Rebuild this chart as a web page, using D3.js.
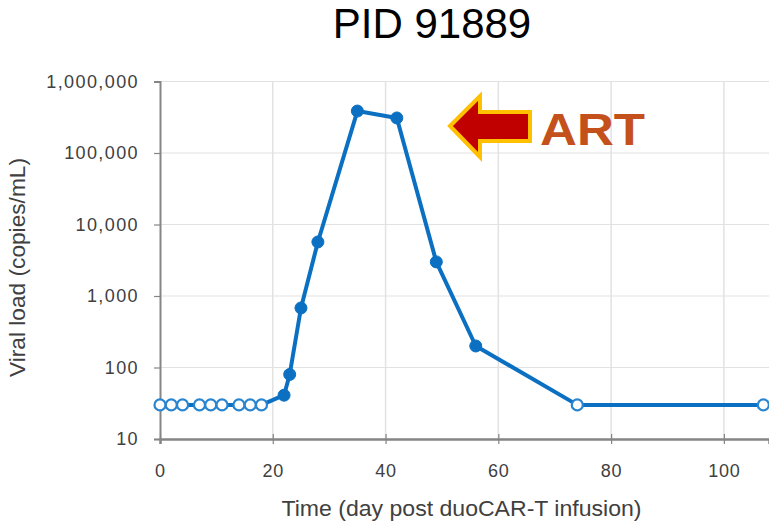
<!DOCTYPE html>
<html>
<head>
<meta charset="utf-8">
<script src="https://cdn.jsdelivr.net/npm/d3@7"></script>
<style>
  html, body { margin: 0; padding: 0; background: #fff; }
  svg { display: block; font-family: "Liberation Sans", Arial, sans-serif; }
</style>
</head>
<body>
<svg id="chart" width="769" height="523"></svg>
<script>
// Viral load measurements after duoCAR-T infusion
const days        = [0, 2, 4, 7, 9, 11, 14, 16, 18, 22, 23, 25, 28, 35, 42, 49, 56, 74, 107];
const viralLoad   = [30, 30, 30, 30, 30, 30, 30, 30, 30, 41, 80, 680, 5700, 386000, 309000, 3000, 200, 30, 30];
// true = below limit of detection (drawn as open marker)
const belowLimit  = [true, true, true, true, true, true, true, true, true, false, false, false, false, false, false, false, false, true, true];
const xTicks      = [0, 20, 40, 60, 80, 100];
const yTicks      = [10, 100, 1000, 10000, 100000, 1000000];

const svg = d3.select("#chart");
const margin = { left: 160, right: 0, top: 81.5, bottom: 84 };
const W = 769, H = 523;

const x = d3.scaleLinear().domain([0, 108]).range([margin.left, W - margin.right]);
const y = d3.scaleLog().domain([10, 1000000]).range([H - margin.bottom, margin.top]);

const lineBlue = "#0b70c2";
const axisGray = "#858585";
const gridGray = "#e2e2e2";
const labelGray = "#404040";

// Title
svg.append("text")
  .attr("x", 432).attr("y", 38)
  .attr("text-anchor", "middle")
  .attr("font-size", 42)
  .attr("fill", "#000")
  .text("PID 91889");

// Gridlines
svg.append("g").selectAll("line")
  .data(xTicks.filter(d => d > 0))
  .join("line")
  .attr("x1", d => x(d)).attr("x2", d => x(d))
  .attr("y1", y(1000000)).attr("y2", y(10))
  .attr("stroke", gridGray).attr("stroke-width", 1.5);

svg.append("g").selectAll("line")
  .data(yTicks.filter(d => d > 10))
  .join("line")
  .attr("x1", x(0)).attr("x2", W)
  .attr("y1", d => y(d)).attr("y2", d => y(d))
  .attr("stroke", gridGray).attr("stroke-width", 1.2);

// Y axis
const yAxis = svg.append("g")
  .attr("transform", `translate(${x(0)},0)`)
  .call(d3.axisLeft(y).tickValues(yTicks).tickFormat(d3.format(",")).tickSize(6).tickPadding(15));
yAxis.select(".domain").attr("stroke", axisGray).attr("stroke-width", 2);
yAxis.selectAll(".tick line").attr("stroke", axisGray).attr("stroke-width", 1.2);
yAxis.selectAll(".tick text")
  .attr("font-size", 18).attr("fill", labelGray)
  .attr("letter-spacing", 1.4)
  .attr("font-family", "\"Liberation Sans\", Arial, sans-serif");

// X axis
const xAxis = svg.append("g")
  .attr("transform", `translate(0,${y(10)})`)
  .call(d3.axisBottom(x).tickValues(xTicks).tickSize(5).tickPadding(20));
xAxis.select(".domain").attr("stroke", axisGray).attr("stroke-width", 2.5);
xAxis.selectAll(".tick line").attr("stroke", axisGray).attr("stroke-width", 1.2).attr("y1", -5);
xAxis.selectAll(".tick text")
  .attr("font-size", 18).attr("fill", labelGray)
  .attr("letter-spacing", 0.8)
  .attr("font-family", "\"Liberation Sans\", Arial, sans-serif");

// Axis titles
svg.append("text")
  .attr("transform", `translate(25,${(158 + 377) / 2}) rotate(-90)`)
  .attr("text-anchor", "middle")
  .attr("font-size", 22)
  .attr("fill", labelGray)
  .attr("textLength", 219)
  .attr("lengthAdjust", "spacingAndGlyphs")
  .text("Viral load (copies/mL)");

svg.append("text")
  .attr("x", 461.5).attr("y", 516)
  .attr("text-anchor", "middle")
  .attr("font-size", 22)
  .attr("fill", labelGray)
  .attr("textLength", 360)
  .attr("lengthAdjust", "spacingAndGlyphs")
  .text("Time (day post duoCAR-T infusion)");

// Series line
const pts = days.map((d, i) => ({ day: d, v: viralLoad[i], open: belowLimit[i] }));
svg.append("path")
  .datum(pts)
  .attr("fill", "none")
  .attr("stroke", lineBlue)
  .attr("stroke-width", 4)
  .attr("stroke-linejoin", "round")
  .attr("d", d3.line().x(d => x(d.day)).y(d => y(d.v)));

// Markers
svg.append("g").selectAll("circle")
  .data(pts)
  .join("circle")
  .attr("cx", d => x(d.day))
  .attr("cy", d => y(d.v))
  .attr("r", d => d.open ? 5.5 : 6)
  .attr("fill", d => d.open ? "#fff" : lineBlue)
  .attr("stroke", d => d.open ? "#2a85d0" : lineBlue)
  .attr("stroke-width", d => d.open ? 2.2 : 1);

// ART arrow annotation
const ax = 450, ay = 126;
const arrow = [
  [ax, ay],
  [ax + 30, ay - 30],
  [ax + 30, ay - 14],
  [ax + 80, ay - 14],
  [ax + 80, ay + 15],
  [ax + 30, ay + 15],
  [ax + 30, ay + 31]
];
svg.append("path")
  .attr("d", d3.line()(arrow) + "Z")
  .attr("fill", "#c00000")
  .attr("stroke", "#ffc000")
  .attr("stroke-width", 4)
  .attr("stroke-linejoin", "miter");

svg.append("text")
  .attr("x", 540).attr("y", 145)
  .attr("font-size", 44)
  .attr("font-weight", "bold")
  .attr("fill", "#c4501b")
  .attr("textLength", 105)
  .attr("lengthAdjust", "spacingAndGlyphs")
  .text("ART");
</script>
</body>
</html>
